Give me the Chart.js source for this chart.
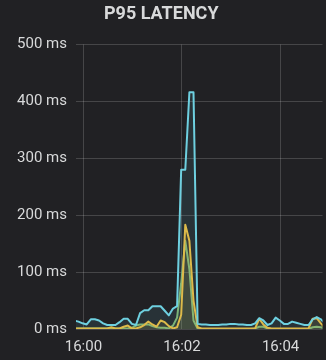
<!DOCTYPE html>
<html>
<head>
<meta charset="utf-8">
<script src="https://cdn.jsdelivr.net/npm/chart.js@4/dist/chart.umd.min.js"></script>
<style>
  html, body { margin: 0; padding: 0; background: #212124; }
  #wrap { width: 326px; height: 360px; position: relative; }
</style>
</head>
<body>
<div id="wrap"><canvas id="latency"></canvas></div>
<script>
// Sample times, in seconds after 16:00
const sampleSeconds = [
  -11, -6, -1, 4, 9, 14, 19, 24, 29, 34, 39, 44, 49, 54, 59, 64, 69, 74, 79, 84,
  89, 94, 99, 104, 109, 114, 119, 124, 129, 134, 139, 144, 149, 154, 159, 164, 169, 174, 179, 184,
  189, 194, 199, 204, 209, 214, 219, 224, 229, 234, 239, 244, 249, 254, 259, 264, 269, 274, 279, 284,
  289, 294
];

// p95 latency per service, milliseconds
const seriesBlue = [
  15, 13, 10, 8, 17, 17, 15, 10, 7, 7, 7, 12, 18, 18, 9, 7, 28, 33, 33, 40,
  40, 40, 32, 24, 36, 40, 280, 280, 416, 416, 9, 8, 8, 7, 7, 7, 8, 8, 9, 9,
  8, 8, 7, 7, 10, 19, 15, 7, 10, 20, 15, 9, 9, 13, 11, 9, 7, 7, 17, 21,
  17, 10
];
const seriesYellow = [
  1, 1, 1, 1, 1, 1, 1, 1, 1, 3, 1, 1, 4, 6, 1, 1, 3, 7, 13, 8,
  4, 15, 12, 5, 1, 3, 25, 183, 155, 50, 3, 1, 1, 1, 1, 1, 1, 1, 1, 1,
  1, 1, 1, 1, 1, 18, 8, 2, 1, 1, 1, 1, 1, 1, 1, 1, 1, 1, 18, 19,
  10, 2
];
const seriesGreen = [
  1, 1, 1, 1, 1, 1, 1, 1, 1, 1, 1, 1, 1, 1, 2, 6, 8, 8, 8, 5,
  3, 2, 2, 1, 6, 20, 80, 155, 105, 15, 1, 0, 0, 0, 0, 0, 0, 0, 0, 0,
  0, 0, 0, 0, 1, 4, 4, 1, 0, 0, 0, 0, 0, 0, 0, 0, 0, 0, 3, 4,
  3, 1
];

// Time axis labels and where they sit (seconds after 16:00)
const timeTickSeconds = [0, 120, 240];
const timeTickLabels = ['16:00', '16:02', '16:04'];

// Latency axis ticks (ms)
const latencyTicks = [0, 100, 200, 300, 400, 500];

const toPoints = (vals) => vals.map((v, i) => ({ x: sampleSeconds[i], y: v }));

const textColor = '#d8d9da';
const gridColor = 'rgba(255,255,255,0.17)';

function lineSet(values, color, fillColor) {
  return {
    data: toPoints(values),
    borderColor: color,
    backgroundColor: fillColor,
    borderWidth: 2,
    pointRadius: 0,
    pointHoverRadius: 0,
    tension: 0,
    fill: 'origin',
    borderJoinStyle: 'round'
  };
}

new Chart(document.getElementById('latency'), {
  type: 'line',
  data: {
    datasets: [
      lineSet(seriesBlue, '#6ED0E0', 'rgba(110,208,224,0.10)'),
      lineSet(seriesYellow, '#EAB839', 'rgba(234,184,57,0.10)'),
      lineSet(seriesGreen, '#7EB26D', 'rgba(126,178,109,0.10)')
    ]
  },
  options: {
    responsive: true,
    maintainAspectRatio: false,
    animation: false,
    layout: { padding: { top: 0, right: 3.5, bottom: 0, left: 0 } },
    plugins: {
      legend: { display: false },
      tooltip: { enabled: false },
      title: {
        display: true,
        text: 'P95 LATENCY',
        color: textColor,
        font: { family: 'Roboto', size: 18, weight: 'bold', lineHeight: 1.2 },
        padding: { top: 3.2, bottom: 19.7 }
      }
    },
    scales: {
      x: {
        type: 'linear',
        min: -9,
        max: 291,
        border: { display: false },
        grid: { color: gridColor, lineWidth: 1, drawTicks: false },
        ticks: {
          color: textColor,
          font: { family: 'Roboto', size: 15 },
          padding: 9,
          autoSkip: false,
          maxRotation: 0,
          callback: (value) => {
            const i = timeTickSeconds.indexOf(value);
            return i >= 0 ? timeTickLabels[i] : '';
          }
        },
        afterBuildTicks: (scale) => {
          scale.ticks = timeTickSeconds.map((v) => ({ value: v }));
        },
        afterFit: (scale) => { scale.height = 31; }
      },
      y: {
        type: 'linear',
        min: 0,
        max: 500,
        border: { display: false },
        grid: { color: gridColor, lineWidth: 1, drawTicks: false },
        ticks: {
          color: textColor,
          font: { family: 'Roboto', size: 15 },
          padding: 9,
          callback: (value) => value + ' ms'
        },
        afterBuildTicks: (scale) => {
          scale.ticks = latencyTicks.map((v) => ({ value: v }));
        },
        afterFit: (scale) => { scale.width = 76; }
      }
    }
  }
});
</script>
</body>
</html>
